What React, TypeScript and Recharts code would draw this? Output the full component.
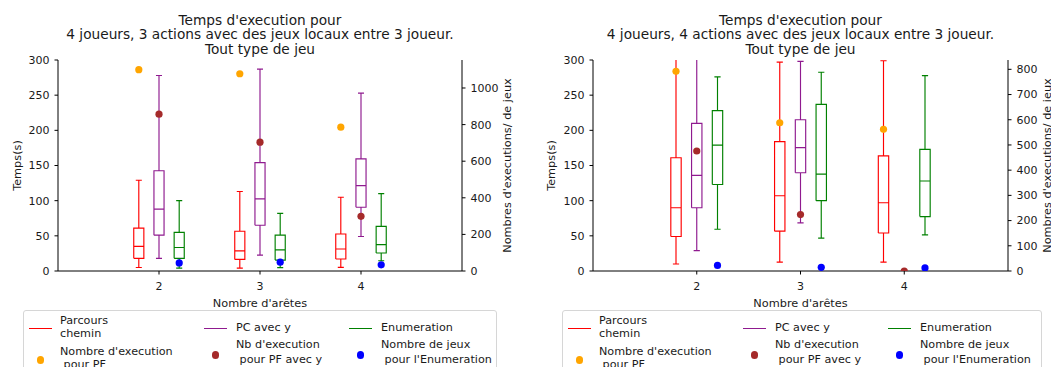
import React from 'react';
import { ComposedChart, Line, Scatter, XAxis, YAxis } from 'recharts';

const FONT = '"DejaVu Sans", sans-serif';
const TEXT = '#1a1a1a';

const CATEGORIES = [2, 3, 4];
const TIME_TICKS = [0, 50, 100, 150, 200, 250, 300];
const X_TICKS = [2, 3, 4];

const COLOR_PF = '#ff0000';
const COLOR_PFY = '#8f1a8f';
const COLOR_ENUM = '#008000';
const COLOR_NB_PF = '#ffa500';
const COLOR_NB_PFY = '#a52a2a';
const COLOR_NB_ENUM = '#0000ff';

// --- 3 actions ---
const A3_PF_LOW = [5, 4, 5.2];
const A3_PF_Q1 = [18, 16.5, 17];
const A3_PF_MED = [35, 28.7, 31.3];
const A3_PF_Q3 = [61, 56.5, 52.6];
const A3_PF_HIGH = [129, 113, 104.8];

const A3_PFY_LOW = [18, 22.6, 49];
const A3_PFY_Q1 = [51, 65, 90.6];
const A3_PFY_MED = [88, 102.6, 121.4];
const A3_PFY_Q3 = [142.6, 154, 159.5];
const A3_PFY_HIGH = [278, 287, 253];

const A3_EN_LOW = [4, 4.7, 14.6];
const A3_EN_Q1 = [18, 15.5, 25.6];
const A3_EN_MED = [33.4, 30, 37.4];
const A3_EN_Q3 = [55, 51, 63.5];
const A3_EN_HIGH = [100, 82, 110];

const A3_NB_PF = [1100, 1078, 786];
const A3_NB_PFY = [857, 704, 299];
const A3_NB_ENUM = [44, 48, 34];
const A3_COUNT_TICKS = [0, 200, 400, 600, 800, 1000];
const A3_COUNT_MAX = 1153;

// --- 4 actions ---
const A4_PF_LOW = [9.9, 12.7, 12.7];
const A4_PF_Q1 = [49, 56.6, 54];
const A4_PF_MED = [90, 107, 97];
const A4_PF_Q3 = [161, 184, 163.7];
const A4_PF_HIGH = [330, 297, 299];

const A4_PFY_LOW = [29, 68.4, null];
const A4_PFY_Q1 = [90, 139.7, null];
const A4_PFY_MED = [136, 175.5, null];
const A4_PFY_Q3 = [210, 215, null];
const A4_PFY_HIGH = [340, 298, null];

const A4_EN_LOW = [59.4, 46.7, 51.4];
const A4_EN_Q1 = [123, 100, 77.4];
const A4_EN_MED = [179, 137.7, 128];
const A4_EN_Q3 = [228, 237, 173];
const A4_EN_HIGH = [276, 282.6, 277.8];

const A4_NB_PF = [792, 588, 562];
const A4_NB_PFY = [476, 224, 0];
const A4_NB_ENUM = [22, 14.6, 12];
const A4_COUNT_TICKS = [0, 100, 200, 300, 400, 500, 600, 700, 800];
const A4_COUNT_MAX = 837;

const TITLE_3 = ["Temps d'execution pour", '4 joueurs, 3 actions avec des jeux locaux entre 3 joueur.', 'Tout type de jeu'];
const TITLE_4 = ["Temps d'execution pour", '4 joueurs, 4 actions avec des jeux locaux entre 3 joueur.', 'Tout type de jeu'];

type Stats = { low: (number | null)[]; q1: (number | null)[]; med: (number | null)[]; q3: (number | null)[]; high: (number | null)[] };
type Pt = { x: number; y: number | null };

// turns the box statistics into one broken polyline (box, median, whiskers, caps)
function boxPoints(offset: number, s: Stats): Pt[] {
  const half = 0.05;
  const cap = 0.03;
  const pts: Pt[] = [];
  CATEGORIES.forEach((cat, i) => {
    const q1 = s.q1[i], q3 = s.q3[i], med = s.med[i], lo = s.low[i], hi = s.high[i];
    if (q1 == null || q3 == null || med == null || lo == null || hi == null) return;
    const c = cat + offset;
    const gap = () => pts.push({ x: c, y: null });
    pts.push({ x: c - half, y: q1 }, { x: c + half, y: q1 }, { x: c + half, y: q3 }, { x: c - half, y: q3 }, { x: c - half, y: q1 });
    gap();
    pts.push({ x: c - half, y: med }, { x: c + half, y: med });
    gap();
    pts.push({ x: c, y: q3 }, { x: c, y: hi });
    gap();
    pts.push({ x: c - cap, y: hi }, { x: c + cap, y: hi });
    gap();
    pts.push({ x: c, y: q1 }, { x: c, y: lo });
    gap();
    pts.push({ x: c - cap, y: lo }, { x: c + cap, y: lo });
    gap();
  });
  return pts;
}

function dotPoints(offset: number, values: number[]): Pt[] {
  return CATEGORIES.map((cat, i) => ({ x: cat + offset, y: values[i] }));
}

const dotShape = (color: string) => (p: any) =>
  p.cx == null || p.cy == null ? <g /> : <circle cx={p.cx} cy={p.cy} r={3.6} fill={color} />;

interface PanelProps {
  left: number;
  width: number;
  plotLeft: number;
  plotRight: number;
  title: string[];
  pf: Stats;
  pfy: Stats;
  en: Stats;
  nbPf: number[];
  nbPfy: number[];
  nbEnum: number[];
  countTicks: number[];
  countMax: number;
  leftLabelDx: number;
  rightLabelDx: number;
  legendLeft: number;
  legendWidth: number;
}

const tickStyle = { fill: TEXT, fontSize: 11, fontFamily: FONT };
const LABEL_SIZE = 11.3;

const LEGEND_LINES = [
  { label: ['Parcours', 'chemin'], color: COLOR_PF },
  { label: ['PC avec y'], color: COLOR_PFY },
  { label: ['Enumeration'], color: COLOR_ENUM },
];
const LEGEND_DOTS = [
  { label: ["Nombre d'execution", ' pour PF'], color: COLOR_NB_PF },
  { label: ["Nb d'execution", ' pour PF avec y'], color: COLOR_NB_PFY },
  { label: ['Nombre de jeux', " pour l'Enumeration"], color: COLOR_NB_ENUM },
];

const Legend: React.FC<{ left: number; width: number }> = ({ left, width }) => {
  const handleX = [5, 180, 325];
  const textX = [36, 212, 357];
  const lineStyle = (top: number, x: number): React.CSSProperties => ({
    position: 'absolute', left: x, top: top - 7, height: 14, lineHeight: '14px', whiteSpace: 'pre',
    fontSize: 11.2, fontFamily: FONT, color: TEXT,
  });
  return (
    <div style={{ position: 'absolute', left, top: 310, width, height: 70, border: '1px solid #d6d6d6', borderRadius: 3, background: 'rgba(255,255,255,0.8)' }}>
      {LEGEND_LINES.map((item, i) => {
        const centers = item.label.length === 2 ? [10, 23] : [17];
        return (
          <React.Fragment key={'l' + i}>
            <div style={{ position: 'absolute', left: handleX[i], top: 16.5, width: 23, height: 1.1, background: item.color }} />
            {item.label.map((t, j) => <div key={j} style={lineStyle(centers[j], textX[i])}>{t}</div>)}
          </React.Fragment>
        );
      })}
      {LEGEND_DOTS.map((item, i) => {
        const centers = i === 0 ? [41, 53.5] : [34.3, 49];
        const dotY = i === 0 ? 49 : 44;
        return (
          <React.Fragment key={'d' + i}>
            <div style={{ position: 'absolute', left: handleX[i] + 11.5 - 3.6, top: dotY - 3.6, width: 7.2, height: 7.2, borderRadius: '50%', background: item.color }} />
            {item.label.map((t, j) => <div key={j} style={lineStyle(centers[j], textX[i])}>{t}</div>)}
          </React.Fragment>
        );
      })}
    </div>
  );
};

const Panel: React.FC<PanelProps> = (p) => {
  const rightWidth = p.width - p.plotRight;
  const plotW = p.plotRight - p.plotLeft;
  return (
    <>
      <div style={{ position: 'absolute', left: p.left + p.plotLeft - 60, width: plotW + 120, top: 12.5, textAlign: 'center', fontFamily: FONT, fontSize: 13.7, lineHeight: '14.6px', color: TEXT }}>
        {p.title.map((t, i) => <div key={i}>{t}</div>)}
      </div>
      <div style={{ position: 'absolute', left: p.left, top: 0 }}>
        <ComposedChart width={p.width} height={367} margin={{ top: 60, right: 0, bottom: 56, left: 0 }}>
          <XAxis xAxisId="top" orientation="top" type="number" dataKey="x" domain={[1, 5]} allowDataOverflow height={0} tick={false} tickLine={false} axisLine={{ stroke: '#000' }} />
          <XAxis
            xAxisId="x" type="number" dataKey="x" domain={[1, 5]} ticks={X_TICKS} allowDataOverflow height={40}
            tick={tickStyle} tickSize={3.5} tickMargin={8} tickLine={{ stroke: '#000' }} axisLine={{ stroke: '#000' }}
            label={{ value: "Nombre d'arêtes", position: 'center', dy: 12, fill: TEXT, fontSize: LABEL_SIZE, fontFamily: FONT }}
          />
          <YAxis
            yAxisId="t" dataKey="y" type="number" domain={[0, 300]} ticks={TIME_TICKS} allowDataOverflow width={p.plotLeft}
            tick={tickStyle} tickSize={3.5} tickMargin={5} tickLine={{ stroke: '#000' }} axisLine={{ stroke: '#000' }}
            label={{ value: 'Temps(s)', angle: -90, position: 'center', dx: p.leftLabelDx, fill: TEXT, fontSize: LABEL_SIZE, fontFamily: FONT }}
          />
          <YAxis
            yAxisId="n" orientation="right" dataKey="y" type="number" domain={[0, p.countMax]} ticks={p.countTicks} allowDataOverflow width={rightWidth}
            tick={{ ...tickStyle, textAnchor: 'start' }} tickSize={3.5} tickMargin={5} tickLine={{ stroke: '#000' }} axisLine={{ stroke: '#000' }}
            label={{ value: "Nombres d'executions/ de jeux", angle: -90, position: 'center', dx: p.rightLabelDx, fill: TEXT, fontSize: LABEL_SIZE, fontFamily: FONT }}
          />
          <Line data={boxPoints(-0.2, p.pf)} xAxisId="x" yAxisId="t" dataKey="y" type="linear" stroke={COLOR_PF} strokeWidth={1.15} dot={false} activeDot={false} connectNulls={false} isAnimationActive={false} />
          <Line data={boxPoints(0, p.pfy)} xAxisId="x" yAxisId="t" dataKey="y" type="linear" stroke={COLOR_PFY} strokeWidth={1.15} dot={false} activeDot={false} connectNulls={false} isAnimationActive={false} />
          <Line data={boxPoints(0.2, p.en)} xAxisId="x" yAxisId="t" dataKey="y" type="linear" stroke={COLOR_ENUM} strokeWidth={1.15} dot={false} activeDot={false} connectNulls={false} isAnimationActive={false} />
          <Scatter data={dotPoints(-0.2, p.nbPf)} xAxisId="x" yAxisId="n" dataKey="y" shape={dotShape(COLOR_NB_PF)} isAnimationActive={false} />
          <Scatter data={dotPoints(0, p.nbPfy)} xAxisId="x" yAxisId="n" dataKey="y" shape={dotShape(COLOR_NB_PFY)} isAnimationActive={false} />
          <Scatter data={dotPoints(0.2, p.nbEnum)} xAxisId="x" yAxisId="n" dataKey="y" shape={dotShape(COLOR_NB_ENUM)} isAnimationActive={false} />
        </ComposedChart>
      </div>
      <Legend left={p.left + p.legendLeft} width={p.legendWidth} />
    </>
  );
};

export default function App() {
  return (
    <div style={{ position: 'absolute', left: 0, top: 0, width: 1051, height: 367, background: '#fff', overflow: 'hidden' }}>
      <Panel
        left={0} width={525} plotLeft={58} plotRight={462} title={TITLE_3}
        pf={{ low: A3_PF_LOW, q1: A3_PF_Q1, med: A3_PF_MED, q3: A3_PF_Q3, high: A3_PF_HIGH }}
        pfy={{ low: A3_PFY_LOW, q1: A3_PFY_Q1, med: A3_PFY_MED, q3: A3_PFY_Q3, high: A3_PFY_HIGH }}
        en={{ low: A3_EN_LOW, q1: A3_EN_Q1, med: A3_EN_MED, q3: A3_EN_Q3, high: A3_EN_HIGH }}
        nbPf={A3_NB_PF} nbPfy={A3_NB_PFY} nbEnum={A3_NB_ENUM}
        countTicks={A3_COUNT_TICKS} countMax={A3_COUNT_MAX}
        leftLabelDx={-12} rightLabelDx={13} legendLeft={23} legendWidth={472}
      />
      <Panel
        left={530} width={521} plotLeft={63} plotRight={478} title={TITLE_4}
        pf={{ low: A4_PF_LOW, q1: A4_PF_Q1, med: A4_PF_MED, q3: A4_PF_Q3, high: A4_PF_HIGH }}
        pfy={{ low: A4_PFY_LOW, q1: A4_PFY_Q1, med: A4_PFY_MED, q3: A4_PFY_Q3, high: A4_PFY_HIGH }}
        en={{ low: A4_EN_LOW, q1: A4_EN_Q1, med: A4_EN_MED, q3: A4_EN_Q3, high: A4_EN_HIGH }}
        nbPf={A4_NB_PF} nbPfy={A4_NB_PFY} nbEnum={A4_NB_ENUM}
        countTicks={A4_COUNT_TICKS} countMax={A4_COUNT_MAX}
        leftLabelDx={-10.8} rightLabelDx={17} legendLeft={32} legendWidth={478}
      />
    </div>
  );
}
